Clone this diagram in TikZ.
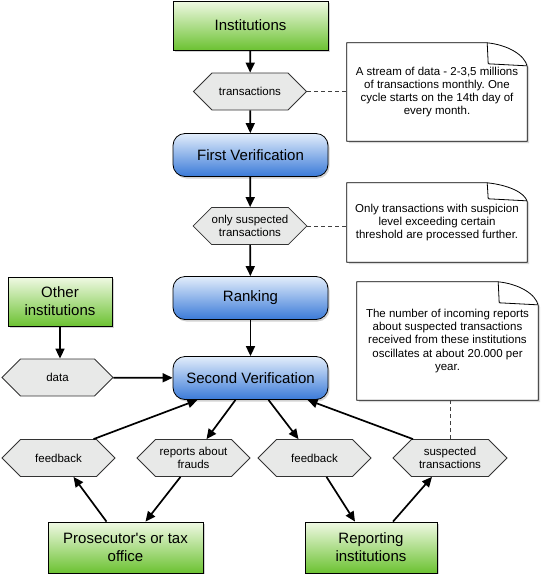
\documentclass[tikz,border=0pt]{standalone}
\usepackage{fontspec}
\setmainfont{Liberation Sans}
\frenchspacing
\usetikzlibrary{shapes.symbols,arrows.meta,shadows,backgrounds}
\definecolor{gtop}{RGB}{240,249,228}
\definecolor{gbot}{RGB}{108,194,50}
\definecolor{btop}{RGB}{226,237,251}
\definecolor{bbot}{RGB}{58,122,216}
\definecolor{hexfill}{RGB}{232,233,232}
% #1 node, #2 fold height
\newcommand\dogear[2]{%
  \draw[noteshape] (#1.north west) -- ([xshift=-40pt]#1.north east)
    .. controls ([xshift=-20pt,yshift=-2pt]#1.north east) and ([xshift=-2pt,yshift=-#2pt/2]#1.north east) ..
    ([yshift=-#2pt]#1.north east) -- (#1.south east) -- (#1.south west) -- cycle;
  \draw[line width=0.8pt] ([xshift=-40pt]#1.north east) -- ([xshift=-39pt,yshift=-#2pt+3pt]#1.north east)
    -- ([xshift=-1pt,yshift=-#2pt+1pt]#1.north east);}
\begin{document}
\begin{tikzpicture}[x=1pt,y=-1pt,
  every node/.style={font=\fontsize{15}{18}\selectfont, align=center, inner sep=0pt},
  greenbox/.style={rectangle, draw=black, line width=0.8pt, top color=gtop, bottom color=gbot,
    drop shadow={opacity=0.35, shadow xshift=1.5pt, shadow yshift=-2pt}},
  bluebox/.style={rectangle, rounded corners=12pt, draw=black, line width=0.8pt, top color=btop,
    bottom color=bbot, minimum width=155pt, minimum height=43pt,
    drop shadow={opacity=0.35, shadow xshift=1.5pt, shadow yshift=-2pt}},
  hexa/.style={signal, signal to=west and east, signal pointer angle=90, draw=black!80,
    fill=hexfill, line width=0.8pt, font=\fontsize{11.5}{13}\selectfont,
    minimum width=113pt, minimum height=37pt},
  conn/.style={line width=1.7pt, -{Triangle[length=10pt,width=9pt]}},
  dashconn/.style={line width=0.7pt, dash pattern=on 4pt off 3pt, draw=black!75},
  notetext/.style={font=\fontsize{11.5}{13.3}\selectfont, align=center},
  noteshape/.style={draw=black, line width=0.8pt, fill=white,
    drop shadow={opacity=0.3, shadow xshift=2pt, shadow yshift=-2pt}}
]
\useasboundingbox (0,0) rectangle (544,574);

\node[greenbox, minimum width=155pt, minimum height=49pt] (inst) at (250.5,25.5) {Institutions};
\node[hexa] (tr1) at (250,91.5) {transactions};
\node[bluebox] (fv) at (250.5,155) {First Verification};
\node[hexa] (tr2) at (250,226) {only suspected\\transactions};
\node[bluebox] (rank) at (250.5,298) {Ranking};
\node[bluebox] (sv) at (250.5,378) {Second Verification};
\node[greenbox, minimum width=104pt, minimum height=49pt] (other) at (60,301.5) {Other\\institutions};
\node[hexa, minimum width=111pt] (data) at (57.5,377.5) {data};
\node[hexa] (fb1) at (58.5,458) {feedback};
\node[hexa] (rep) at (193.5,458) {reports about\\frauds};
\node[hexa] (fb2) at (314.5,458) {feedback};
\node[hexa, minimum width=114pt] (st) at (450,458) {suspected\\transactions};
\node[greenbox, minimum width=155pt, minimum height=51pt] (pros) at (125.5,547.5) {Prosecutor\textquotesingle s or tax\\office};
\node[greenbox, minimum width=132pt, minimum height=51pt] (ri) at (371,547.5) {Reporting\\institutions};

\node[notetext, minimum width=180pt, minimum height=98pt] (n1) at (437,92)
  {A stream of data - 2-3,5 millions\\of transactions monthly. One\\cycle starts on the 14th day of\\every month.};
\node[notetext, minimum width=180pt, minimum height=79pt] (n2) at (437,222.5)
  {Only transactions with suspicion\\level exceeding certain\\threshold are processed further.};
\node[notetext, minimum width=181pt, minimum height=118pt] (n3) at (447.5,341)
  {The number of incoming reports\\about suspected transactions\\received from these institutions\\oscillates at about 20.000 per\\year.};
\begin{scope}[on background layer]
  \dogear{n1}{24}
  \dogear{n2}{19}
  \dogear{n3}{24}
\end{scope}

\draw[dashconn] (tr1.east) -- (tr1.east -| n1.west);
\draw[dashconn] (tr2.east) -- (tr2.east -| n2.west);
\draw[dashconn] (st.north) -- (st.north |- n3.south);

\draw[conn] (inst) -- (tr1);
\draw[conn] (tr1) -- (fv);
\draw[conn] (fv) -- (tr2);
\draw[conn] (tr2) -- (rank);
\draw[conn] (rank) -- (sv);
\draw[conn] (other) -- (other |- data.north);
\draw[conn] (data) -- (sv);
\draw[conn] ([xshift=35pt]fb1.north) -- ([xshift=-53pt]sv.south);
\draw[conn] ([xshift=-15pt]sv.south) -- ([xshift=13pt]rep.north);
\draw[conn] ([xshift=-13pt]rep.south) -- ([xshift=20pt]pros.north);
\draw[conn] ([xshift=-19pt]pros.north) -- ([xshift=15pt]fb1.south);
\draw[conn] ([xshift=18pt]sv.south) -- ([xshift=-16pt]fb2.north);
\draw[conn] ([xshift=12pt]fb2.south) -- ([xshift=-16pt]ri.north);
\draw[conn] ([xshift=22pt]ri.north) -- ([xshift=-18pt]st.south);
\draw[conn] ([xshift=-37pt]st.north) -- ([xshift=57pt]sv.south);
\end{tikzpicture}
\end{document}
